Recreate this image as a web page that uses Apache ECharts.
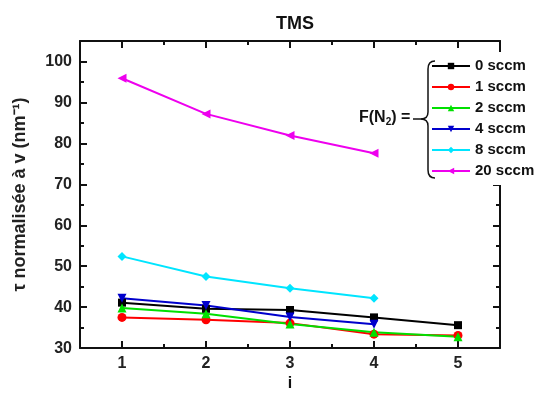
<!DOCTYPE html>
<html><head><meta charset="utf-8">
<script src="https://cdn.jsdelivr.net/npm/echarts@6/dist/echarts.min.js"></script>
<style>html,body{margin:0;padding:0;background:#fff}#c{width:539px;height:397px}</style>
</head><body><div id="c"></div>
<script>
var categories = [1, 2, 3, 4, 5];
var minorX = [1.5, 2.5, 3.5, 4.5];
var seriesNames = ['0 sccm', '1 sccm', '2 sccm', '4 sccm', '8 sccm', '20 sccm'];
var s0 = [41.1, 39.6, 39.3, 37.5, 35.6];
var s1 = [37.5, 36.9, 36.1, 33.4, 33.1];
var s2 = [39.8, 38.4, 35.9, 33.9, 32.8];
var s4 = [42.2, 40.4, 37.6, 35.8];
var s8 = [52.4, 47.5, 44.6, 42.2];
var s20 = [95.9, 87.2, 81.9, 77.6];
var yTicks = [30, 40, 50, 60, 70, 80, 90, 100];

var colors = ['#000000', '#ff0000', '#00e000', '#0000cc', '#00e5ff', '#ee00ee'];
var symbols = ['rect', 'circle', 'triangle', 'triangle', 'diamond', 'triangle'];
var rotates = [0, 0, 0, 180, 0, 90];
var sizes = [8, 9, 9, 9, 9, 9];
var allData = [s0, s1, s2, s4, s8, s20];

function pairs(arr) { return arr.map(function (v, i) { return [categories[i], v]; }); }

var font = 'Liberation Sans, Arial, sans-serif';
var series = allData.map(function (d, k) {
  return {
    name: seriesNames[k], type: 'line', data: pairs(d),
    symbol: symbols[k], symbolSize: sizes[k], symbolRotate: rotates[k],
    lineStyle: { color: colors[k], width: 2 },
    itemStyle: { color: colors[k] },
    showAllSymbol: true, animation: false
  };
});

var bs = { stroke: '#111', lineWidth: 1.5, fill: null };
var tickStyle = { color: '#111', width: 2 };
var chart = echarts.init(document.getElementById('c'));
chart.setOption({
  animation: false,
  backgroundColor: '#fff',
  title: { text: 'TMS', left: 290, textAlign: 'center', top: 10,
    textStyle: { fontFamily: font, fontWeight: 'bold', fontSize: 18, color: '#111' } },
  grid: { left: 80, right: 39, top: 41, bottom: 46 },
  xAxis: [
    { type: 'value', min: 0.5, max: 5.5, position: 'bottom',
      name: 'i', nameLocation: 'middle', nameGap: 24,
      nameTextStyle: { fontFamily: font, fontWeight: 'bold', fontSize: 16, color: '#111' },
      axisLine: { show: true, lineStyle: { color: '#111', width: 2 } },
      axisTick: { show: true, inside: true, length: 7, customValues: categories, lineStyle: tickStyle },
      axisLabel: { customValues: categories, margin: 7, fontFamily: font, fontWeight: 'bold', fontSize: 16, color: '#222' },
      splitLine: { show: false } },
    { type: 'value', min: 0.5, max: 5.5, position: 'bottom',
      axisLine: { show: true, lineStyle: { color: 'rgba(0,0,0,0)' } },
      axisTick: { show: true, inside: true, length: 4, customValues: minorX, lineStyle: tickStyle },
      axisLabel: { show: false }, splitLine: { show: false } },
    { type: 'value', min: 0.5, max: 5.5, position: 'top',
      axisLine: { show: true, lineStyle: { color: '#111', width: 2 } },
      axisTick: { show: true, inside: true, length: 7, customValues: categories, lineStyle: tickStyle },
      axisLabel: { show: false }, splitLine: { show: false } },
    { type: 'value', min: 0.5, max: 5.5, position: 'top',
      axisLine: { show: true, lineStyle: { color: 'rgba(0,0,0,0)' } },
      axisTick: { show: true, inside: true, length: 4, customValues: minorX, lineStyle: tickStyle },
      axisLabel: { show: false }, splitLine: { show: false } }
  ],
  yAxis: [
    { type: 'value', min: 30, max: 105, interval: 10, position: 'left',
      name: 'τ normalisée à v (nm\u207B\u00B9)', nameLocation: 'middle', nameGap: 51, nameRotate: 90,
      nameTextStyle: { fontFamily: font, fontWeight: 'bold', fontSize: 18, color: '#222' },
      axisLine: { show: true, lineStyle: { color: '#111', width: 2 } },
      axisTick: { show: true, inside: true, length: 7, lineStyle: tickStyle },
      minorTick: { show: true, splitNumber: 2, length: 4, lineStyle: tickStyle },
      axisLabel: { customValues: yTicks, margin: 8, fontFamily: font, fontWeight: 'bold', fontSize: 16, color: '#222' },
      splitLine: { show: false } },
    { type: 'value', min: 30, max: 105, interval: 10, position: 'right',
      axisLine: { show: true, lineStyle: { color: '#111', width: 2 } },
      axisTick: { show: true, inside: true, length: 7, lineStyle: tickStyle },
      minorTick: { show: true, splitNumber: 2, length: 4, lineStyle: tickStyle },
      axisLabel: { show: false }, splitLine: { show: false } }
  ],
  legend: {
    data: seriesNames, orient: 'vertical', left: 427, top: 52, padding: [6, 4, 6, 4],
    backgroundColor: '#fff',
    itemWidth: 38, itemHeight: 8, itemGap: 5,
    textStyle: { fontFamily: font, fontWeight: 'bold', fontSize: 15, color: '#111', lineHeight: 16 }
  },
  graphic: [
    { type: 'bezierCurve', z: 100, shape: { x1: 435, y1: 61, cpx1: 428, cpy1: 61, x2: 428, y2: 69 }, style: bs },
    { type: 'line', z: 100, shape: { x1: 428, y1: 69, x2: 428, y2: 112 }, style: bs },
    { type: 'bezierCurve', z: 100, shape: { x1: 428, y1: 112, cpx1: 428, cpy1: 119, x2: 421, y2: 119 }, style: bs },
    { type: 'bezierCurve', z: 100, shape: { x1: 421, y1: 119, cpx1: 428, cpy1: 119, x2: 428, y2: 126 }, style: bs },
    { type: 'line', z: 100, shape: { x1: 428, y1: 126, x2: 428, y2: 170 }, style: bs },
    { type: 'bezierCurve', z: 100, shape: { x1: 428, y1: 170, cpx1: 428, cpy1: 178, x2: 435, y2: 178 }, style: bs },
    { type: 'line', z: 100, shape: { x1: 413, y1: 119, x2: 421, y2: 119 }, style: bs },
    { type: 'text', z: 100, left: 359, top: 110,
      style: { text: '{a|F(N}{s|2}{a|) =}', rich: {
        a: { fontFamily: font, fontWeight: 'bold', fontSize: 16, fill: '#111' },
        s: { fontFamily: font, fontWeight: 'bold', fontSize: 10, fill: '#111', verticalAlign: 'bottom', padding: [9, 0, 0, 0] } } } }
  ],
  series: series
});
</script></body></html>
